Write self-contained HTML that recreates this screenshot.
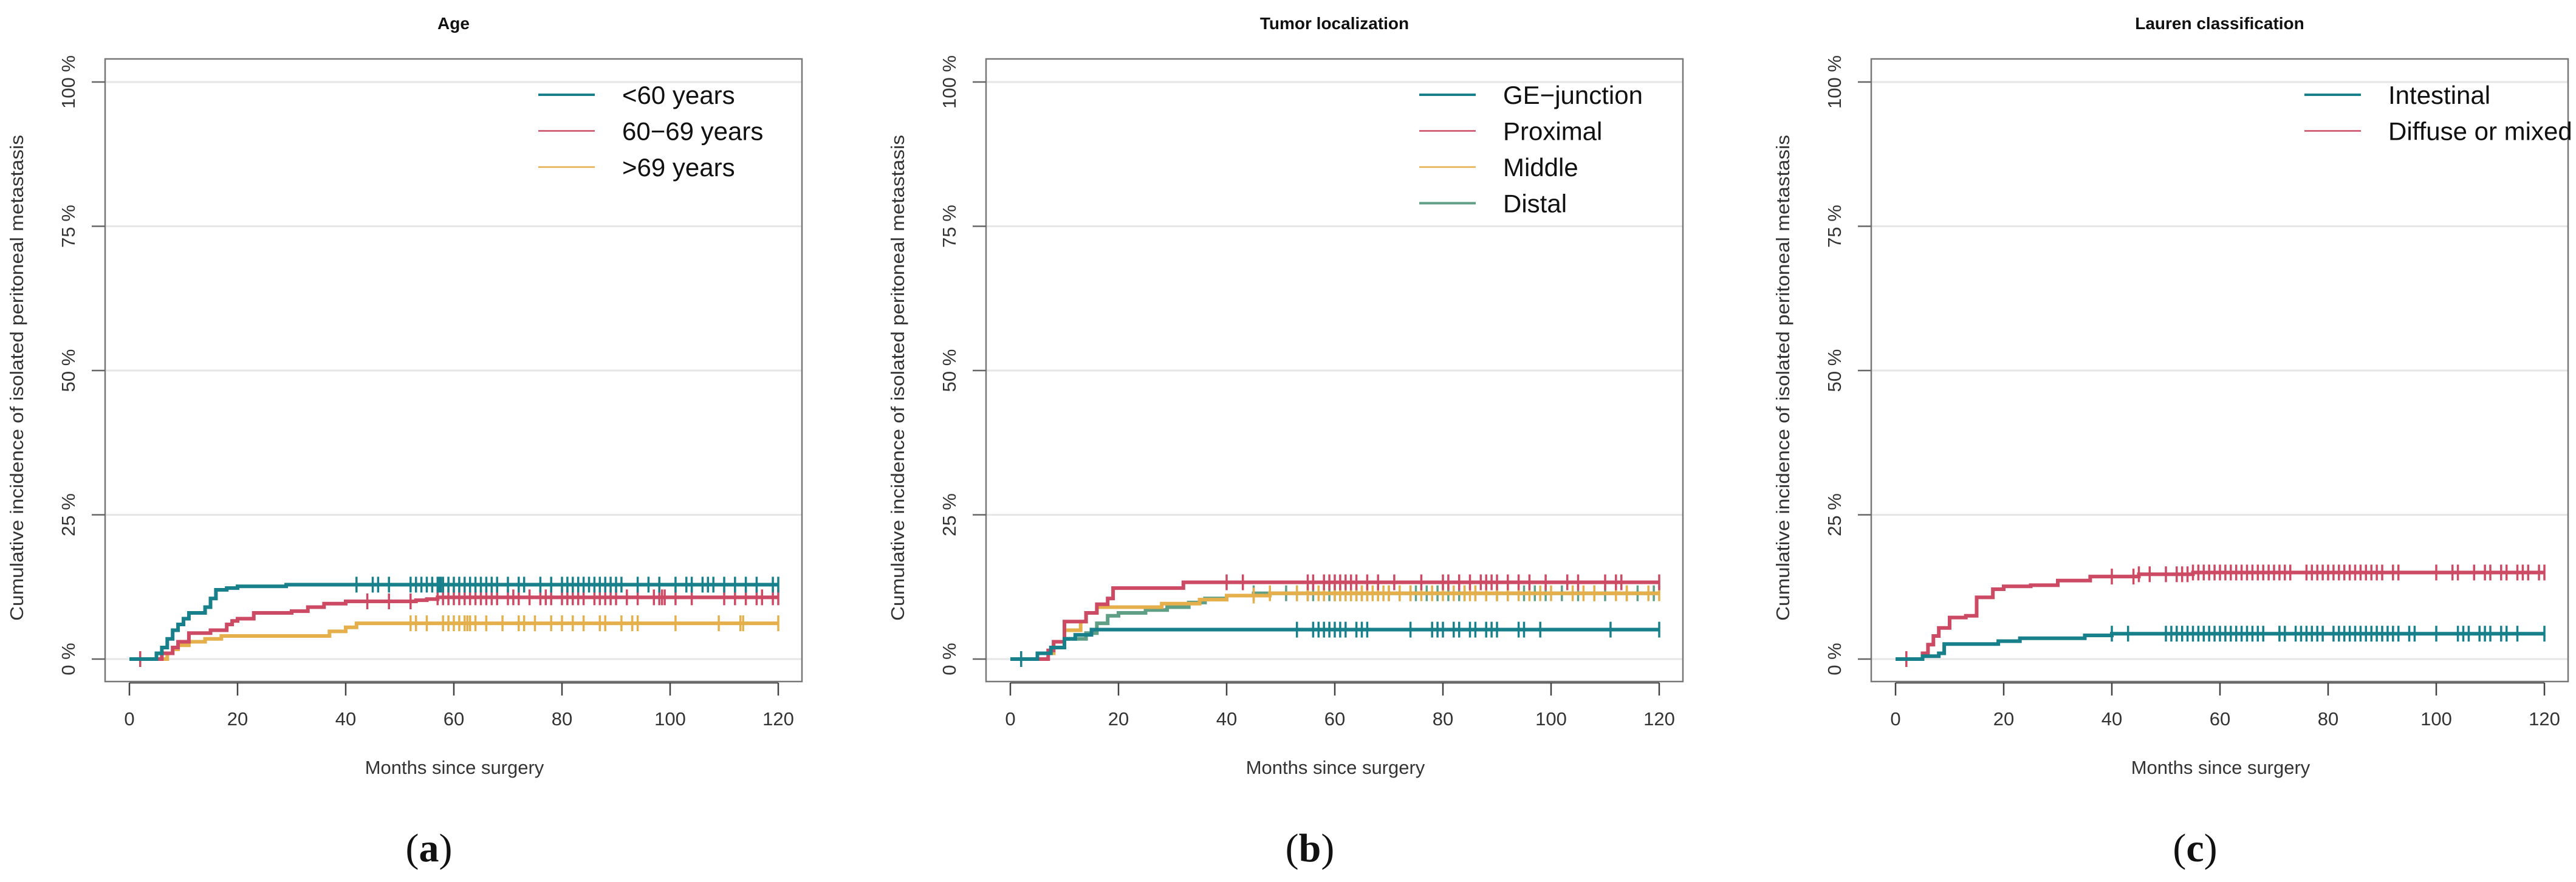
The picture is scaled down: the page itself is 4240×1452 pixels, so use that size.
<!DOCTYPE html>
<html>
<head>
<meta charset="utf-8">
<style>
  html,body{margin:0;padding:0;background:#fff;}
  body{width:4240px;height:1452px;overflow:hidden;}
  svg{display:block;}
  .tick{font-family:"Liberation Sans",sans-serif;font-size:31px;fill:#333;}
  .ttl{font-family:"Liberation Sans",sans-serif;font-size:28px;font-weight:bold;fill:#111;}
  .leg{font-family:"Liberation Sans",sans-serif;font-size:42px;fill:#111;}
  .cap{font-family:"Liberation Serif",serif;font-size:66px;fill:#111;}
</style>
</head>
<body>
<svg id="fig" width="4240" height="1452" viewBox="0 0 4240 1452" xmlns="http://www.w3.org/2000/svg"></svg>
<script>
// ---------- Data ----------
const xTicks = [0, 20, 40, 60, 80, 100, 120];
const yTicks = [0, 25, 50, 75, 100];
const yTickLabels = ["0 %", "25 %", "50 %", "75 %", "100 %"];
const panelTitles = ["Age", "Tumor localization", "Lauren classification"];
const panelCaptions = ["(a)", "(b)", "(c)"];

// Panel a: Age
const ageNames = ["<60 years", "60\u221269 years", ">69 years"];
const ageU60T = [0, 5, 6, 7, 8, 9, 10, 11, 14, 15, 16, 18, 20, 29];
const ageU60V = [0, 1, 2, 3.5, 5, 6, 7, 8, 9, 10.5, 12, 12.3, 12.6, 12.9];
const ageU60C = [42,45,46,48,52,53,54,55,56,57,57.3,57.6,58,59,60,61,62,63,64,65,66,67,68,70,72,73,76,78,80,81,82,83,84,85,86,87,88,89,90,91,94,96,98,101,103,104,106,107,108,110,112,114,116,119,120];
const age6069T = [0, 6, 8, 9, 11, 15, 18, 19, 20, 23, 30, 33, 36, 40, 53, 55, 57];
const age6069V = [0, 1, 2, 3, 4.5, 5, 6, 6.6, 7, 8, 8.3, 9, 9.6, 10, 10.2, 10.4, 10.7];
const age6069C = [2,44,48,52,57,58,59,60,61,62,63,64,65,66,67,68,70,71,72,74,76,77,78,80,81,82,83,84,86,87,88,89,90,92,94,97,98,98.5,99,101,104,110,112,114,116,117,119,120];
const ageO69T = [0, 7, 8, 9, 11, 14, 17, 35, 37, 40, 42];
const ageO69V = [0, 1, 1.7, 2.4, 3, 3.5, 4, 4, 4.8, 5.5, 6.2];
const ageO69C = [52,53,55,58,59,60,61,62,62.5,63,64,66,69,72,73,75,78,80,82,84,87,88,91,93,94,101,109,113,113.5,120];

// Panel b: Tumor localization
const locNames = ["GE\u2212junction", "Proximal", "Middle", "Distal"];
const locGET = [0, 5, 7.5, 10, 12, 15];
const locGEV = [0, 1, 2, 3.5, 4.2, 5.1];
const locGEC = [2,53,56,57,58,59,60,61,62,64,65,66,74,78,79,80,82,83,85,86,88,89,90,94,95,98,111,120];
const locProxT = [0, 7, 8, 10, 14, 16, 18, 19, 32];
const locProxV = [0, 1.5, 3, 6.5, 8, 9.5, 10.5, 12.3, 13.3];
const locProxC = [40,43,55,56,58,59,60,61,62,63,64,66,68,71,76,80,81,83,85,87,88,89,90,92,94,96,99,103,105,110,112,113,120];
const locMidT = [0, 5, 8, 10, 13, 14, 16, 25, 28, 35, 40, 48];
const locMidV = [0, 1, 3, 5, 6.5, 8, 9, 9, 9.6, 10.3, 11, 11.4];
const locMidC = [45,48,53,55,57,58,60,61,62,63,64,65,66,67,68,69,70,72,74,76,78,80,82,84,85,86,88,90,92,94,96,98,100,104,106,108,112,114,118,120];
const locDistT = [0, 5, 8, 10, 14, 16, 18, 20, 25, 29, 33, 36, 40, 45];
const locDistV = [0, 1, 2, 3.5, 4.5, 6.2, 7.5, 8, 8.5, 9, 9.8, 10.5, 11, 11.4];
const locDistC = [45,51,53,55,56,58,59,60,61,62,63,64,65,66,68,70,72,74,75,77,79,81,83,84,86,88,90,92,95,97,99,102,105,108,110,114,116,119];

// Panel c: Lauren classification
const lauNames = ["Intestinal", "Diffuse or mixed"];
const lauIntT = [0, 5, 8, 9, 19, 23, 35, 40];
const lauIntV = [0, 0.5, 1, 2.6, 3.1, 3.6, 4.1, 4.4];
const lauIntC = [40,43,50,51,52,53,54,55,56,57,58,59,60,61,62,63,64,65,66,67,68,71,72,74,75,76,77,78,79,81,82,83,84,85,86,87,88,89,90,91,92,93,95,96,100,104,105,106,108,109,110,112,113,115,120];
const lauDifT = [0, 5, 6, 7, 8, 10, 13, 15, 18, 20, 25, 30, 36, 45, 55];
const lauDifV = [0, 1, 2.5, 4, 5.4, 7.2, 7.5, 10.7, 12.1, 12.6, 12.8, 13.6, 14.3, 14.7, 15];
const lauDifC = [2,40,44,45,47,50,52,53,54,55,56,57,58,59,60,61,62,63,64,65,66,67,68,69,70,71,72,73,76,77,78,79,80,81,82,83,84,85,86,87,88,89,90,92,93,100,103,104,107,109,110,112,113,115,116,117,119,120];

// ---------- Styles / layout ----------
const TEAL = "#17808a", RED = "#cc4a63", YEL = "#e5b04c", GRN = "#5e9f86";
const panelOffsets = [0, 1450, 2907];
const BOX = {l:173, r:1320, t:97, b:1122};
const X0 = 213, X1 = 1281, Y0 = 1085, Y1 = 135;

const panels = [
  {series:[
    {name:ageNames[0], t:ageU60T, v:ageU60V, c:ageU60C, col:TEAL, lw:4},
    {name:ageNames[1], t:age6069T, v:age6069V, c:age6069C, col:RED, lw:2.5},
    {name:ageNames[2], t:ageO69T, v:ageO69V, c:ageO69C, col:YEL, lw:2.5}]},
  {series:[
    {name:locNames[0], t:locGET, v:locGEV, c:locGEC, col:TEAL, lw:4},
    {name:locNames[1], t:locProxT, v:locProxV, c:locProxC, col:RED, lw:2.5},
    {name:locNames[2], t:locMidT, v:locMidV, c:locMidC, col:YEL, lw:2.5},
    {name:locNames[3], t:locDistT, v:locDistV, c:locDistC, col:GRN, lw:4}]},
  {series:[
    {name:lauNames[0], t:lauIntT, v:lauIntV, c:lauIntC, col:TEAL, lw:4},
    {name:lauNames[1], t:lauDifT, v:lauDifV, c:lauDifC, col:RED, lw:2.5}]}
];

const NS = "http://www.w3.org/2000/svg";
const svg = document.getElementById("fig");
function mk(tag, attrs, parent){
  const e = document.createElementNS(NS, tag);
  for (const k in attrs) e.setAttribute(k, attrs[k]);
  (parent || svg).appendChild(e);
  return e;
}
function valAt(t, v, x){ let r = 0; for (let i=0;i<t.length;i++){ if (t[i] <= x) r = v[i]; } return r; }

panels.forEach((p, pi) => {
  const dx = panelOffsets[pi];
  const xs = m => dx + X0 + (X1 - X0) * m / 120;
  const ys = pct => Y0 + (Y1 - Y0) * pct / 100;
  const g = mk("g", {});
  
  

  yTicks.forEach(v => {
    const gl = mk("line", {x1:dx+BOX.l, x2:dx+BOX.r, y1:ys(v), y2:ys(v), stroke:"#e6e6e6", "stroke-width":3}, g);
    
    
  });
  const box = mk("rect", {x:dx+BOX.l, y:BOX.t, width:BOX.r-BOX.l, height:BOX.b-BOX.t, fill:"none", stroke:"#777", "stroke-width":2.5}, g);
  
  

  const tt = mk("text", {x:dx+(BOX.l+BOX.r)/2, y:48, "text-anchor":"middle", class:"ttl"}, g);
  tt.textContent = panelTitles[pi];
  
  

  yTicks.forEach((v, i) => {
    const tk = mk("line", {x1:dx+BOX.l-22, x2:dx+BOX.l, y1:ys(v), y2:ys(v), stroke:"#666", "stroke-width":2.5}, g);
    
    
    const lb = mk("text", {x:0, y:0, "text-anchor":"middle", class:"tick",
      transform:`translate(${dx+123},${ys(v)}) rotate(-90)`}, g);
    lb.textContent = yTickLabels[i];
    
    
  });
  const yt = mk("text", {x:0, y:0, "text-anchor":"middle", class:"tick", textLength:800, lengthAdjust:"spacingAndGlyphs",
    transform:`translate(${dx+38},${(Y0+Y1)/2 + 12}) rotate(-90)`}, g);
  yt.textContent = "Cumulative incidence of isolated peritoneal metastasis";
  
  

  const xa = mk("line", {x1:xs(0), x2:xs(120), y1:1124, y2:1124, stroke:"#666", "stroke-width":3}, g);
  
  
  xTicks.forEach(m => {
    const tk = mk("line", {x1:xs(m), x2:xs(m), y1:1124, y2:1145, stroke:"#444", "stroke-width":2.5}, g);
    
    
    const lb = mk("text", {x:xs(m), y:1194, "text-anchor":"middle", class:"tick"}, g);
    lb.textContent = String(m);
    
    
  });
  const xt = mk("text", {x:dx+748, y:1274, "text-anchor":"middle", class:"tick"}, g);
  xt.textContent = "Months since surgery";
  
  

  const cp = mk("text", {x:dx+706, y:1418, "text-anchor":"middle", class:"cap"}, g);
  cp.innerHTML = '(<tspan font-weight="bold">' + panelCaptions[pi].slice(1,2) + '</tspan>)';
  
  

  p.series.slice().reverse().forEach(s => {
    let d = `M${xs(0)},${ys(s.v[0])}`;
    for (let i=1;i<s.t.length;i++){
      d += ` H${xs(s.t[i])} V${ys(s.v[i])}`;
    }
    d += ` H${xs(120)}`;
    const path = mk("path", {d:d, fill:"none", stroke:s.col, "stroke-width":6, "stroke-linejoin":"miter"}, g);
    
    
    s.c.forEach(cm => {
      const y = ys(valAt(s.t, s.v, cm));
      const ln = mk("line", {x1:xs(cm), x2:xs(cm), y1:y-13, y2:y+13, stroke:s.col, "stroke-width":3.5}, g);
      
      
    });
  });

  p.series.forEach((s, i) => {
    const y = 156 + i * 59.5;
    const ll = mk("line", {x1:dx+886, x2:dx+979, y1:y, y2:y, stroke:s.col, "stroke-width":s.lw}, g);
    
    
    const lt = mk("text", {x:dx+1024, y:y+15, class:"leg"}, g);
    lt.textContent = s.name;
    
    
  });
});
</script>
</body>
</html>
